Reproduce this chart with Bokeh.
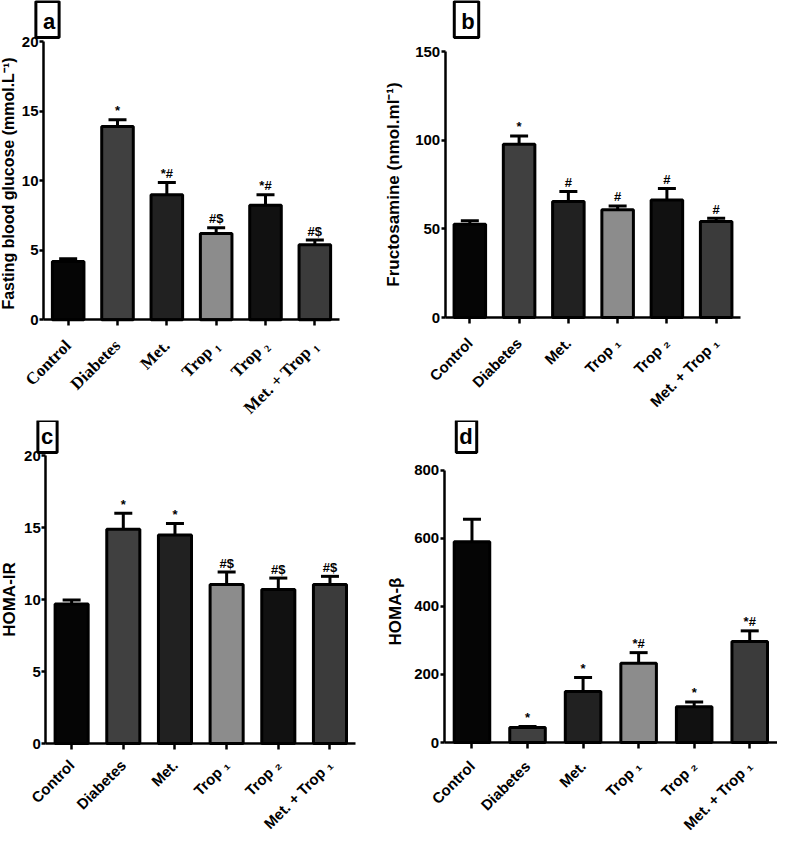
from math import pi
from bokeh.plotting import figure
from bokeh.models import ColumnDataSource, Whisker, TeeHead, Label, FixedTicker, Range1d
from bokeh.layouts import column, row
from bokeh.embed import file_html
from bokeh.resources import INLINE
from bokeh.core.properties import value

# ---------------- data ----------------
groups = ["Control", "Diabetes", "Met.", "Trop \u2081", "Trop \u2082", "Met. + Trop \u2081"]
bar_colors = ["#050505", "#404040", "#212121", "#8c8c8c", "#111111", "#3b3b3b"]

glucose = [4.2, 13.9, 9.0, 6.2, 8.25, 5.4]
glucose_sem = [0.2, 0.5, 0.88, 0.43, 0.74, 0.34]
glucose_sig = ["", "*", "*#", "#$", "*#", "#$"]
glucose_ticks = [0, 5, 10, 15, 20]

fructosamine = [52.7, 97.8, 65.5, 60.8, 66.4, 54.2]
fructosamine_sem = [1.9, 4.7, 5.6, 2.2, 6.4, 1.8]
fructosamine_sig = ["", "*", "#", "#", "#", "#"]
fructosamine_ticks = [0, 50, 100, 150]

homa_ir = [9.7, 14.9, 14.5, 11.05, 10.7, 11.05]
homa_ir_sem = [0.28, 1.1, 0.8, 0.87, 0.8, 0.57]
homa_ir_sig = ["", "*", "*", "#$", "#$", "#$"]
homa_ir_ticks = [0, 5, 10, 15, 20]

homa_b = [590, 44, 150, 233, 105, 297]
homa_b_sem = [66, 3, 41, 31, 14, 31]
homa_b_sig = ["", "*", "*", "*#", "*", "*#"]
homa_b_ticks = [0, 200, 400, 600, 800]

SANS = "Liberation Sans"
SERIF = "Liberation Serif"


def make_panel(letter, vals, sem, sig, ticks, ylabel, geo, xfont, xfont_size,
               x_standoff, ylabel_size, ylabel_pos, letter_pos, letter_pad):
    ox, oy, W, H, xl, xr, y0, yt = geo
    n = len(groups)
    y_max = ticks[-1]
    pxu = (xr - xl) / n
    pyu = (y0 - yt) / y_max
    x_start = -0.5 - (xl - ox) / pxu
    x_end = n - 0.5 + (ox + W - xr) / pxu
    y_start = -(oy + H - y0) / pyu
    y_end = y_max + (yt - oy) / pyu

    xs = list(range(n))
    upper = [v + e for v, e in zip(vals, sem)]
    src = ColumnDataSource(dict(x=xs, top=vals, upper=upper, sig=sig, color=bar_colors))

    p = figure(x_range=Range1d(x_start, x_end), y_range=Range1d(y_start, y_end),
               width=W, height=H, min_border=0, min_border_left=0, min_border_right=0,
               min_border_top=0, min_border_bottom=0, output_backend="svg",
               toolbar_location=None, tools="", title=None)
    p.vbar(x="x", top="top", bottom=0, width=0.64, source=src, fill_color="color",
           line_color="black", line_width=3)
    p.add_layout(Whisker(source=src, base="x", lower="top", upper="upper",
                         line_width=3, line_color="black",
                         upper_head=TeeHead(size=18, line_width=3, line_color="black"),
                         lower_head=None))
    p.text(x="x", y="upper", text="sig", source=src, text_align="center",
           text_baseline="alphabetic", y_offset=-9, text_font=value(SANS),
           text_font_style="bold", text_font_size="13px", text_color="black")

    p.xgrid.visible = False
    p.ygrid.visible = False
    p.outline_line_color = None
    p.background_fill_color = "white"
    p.border_fill_color = "white"

    ya = p.yaxis[0]
    ya.fixed_location = -0.5
    ya.ticker = FixedTicker(ticks=ticks)
    ya.bounds = (0, y_max)
    ya.axis_line_width = 2.5
    ya.axis_line_color = "black"
    ya.major_tick_line_width = 2.5
    ya.major_tick_out = 4
    ya.major_tick_in = 0
    ya.minor_tick_line_color = None
    ya.major_label_standoff = 1
    ya.major_label_text_font = SANS
    ya.major_label_text_font_style = "bold"
    ya.major_label_text_font_size = "15px"
    ya.major_label_text_color = "black"

    xa = p.xaxis[0]
    xa.fixed_location = 0
    xa.ticker = FixedTicker(ticks=xs)
    xa.major_label_overrides = {i: g for i, g in enumerate(groups)}
    xa.bounds = (-0.5, n - 0.5)
    xa.axis_line_width = 2.5
    xa.axis_line_color = "black"
    xa.major_tick_line_width = 2.5
    xa.major_tick_out = 6
    xa.major_tick_in = 0
    xa.minor_tick_line_color = None
    xa.major_label_orientation = pi / 4
    xa.major_label_standoff = x_standoff
    xa.major_label_text_font = xfont
    xa.major_label_text_font_style = "bold"
    xa.major_label_text_font_size = xfont_size
    xa.major_label_text_color = "black"

    # y-axis title
    lx, ly = ylabel_pos
    p.add_layout(Label(x=lx - ox, y=oy + H - ly, x_units="screen", y_units="screen",
                       text=ylabel, angle=pi / 2, text_font=SANS, text_font_style="bold",
                       text_font_size=ylabel_size, text_align="center",
                       text_baseline="middle", text_color="black"))
    # panel letter
    bx, by = letter_pos
    p.add_layout(Label(x=bx - ox, y=oy + H - by, x_units="screen", y_units="screen",
                       text=letter, text_font=SANS, text_font_style="bold",
                       text_font_size="22px", text_align="center", text_baseline="middle",
                       text_color="black", border_line_color="black", border_line_width=3,
                       background_fill_color="white", padding=letter_pad))
    return p


# geometry: fig origin x, y, width, height, x-axis left, x-axis right, y of 0, y of top tick (page px)
geo_a = (8, 8, 382, 420, 51.0, 347.0, 327.3, 49.3)
geo_b = (390, 8, 395, 420, 452.7, 748.3, 325.0, 59.3)
geo_c = (8, 428, 382, 420, 53.3, 363.3, 751.0, 463.3)
geo_d = (390, 428, 395, 420, 451.7, 785.0, 750.0, 477.7)

pa = make_panel("a", glucose, glucose_sem, glucose_sig, glucose_ticks,
                "Fasting blood glucose (mmol.L\u207b\u00b9)", geo_a, SERIF, "17px", 17,
                "16px", (16, 191), (55, 27), (7, 4, 7, 4))
pb = make_panel("b", fructosamine, fructosamine_sem, fructosamine_sig, fructosamine_ticks,
                "Fructosamine (nmol.ml\u207b\u00b9)", geo_b, SANS, "15px", 17,
                "17px", (401, 192), (474, 27), (7, 4, 7, 4))
pc = make_panel("c", homa_ir, homa_ir_sem, homa_ir_sig, homa_ir_ticks, "HOMA-IR", geo_c,
                SANS, "15px", 13, "17px", (17, 607), (55, 444), (3, 4, 3, 4))
pd = make_panel("d", homa_b, homa_b_sem, homa_b_sig, homa_b_ticks, "HOMA-\u03b2", geo_d,
                SANS, "15px", 15, "17px", (403, 619), (474, 444), (3, 4, 3, 4))

layout = column(row(pa, pb), row(pc, pd))
open("out.html", "w").write(file_html(layout, INLINE))
